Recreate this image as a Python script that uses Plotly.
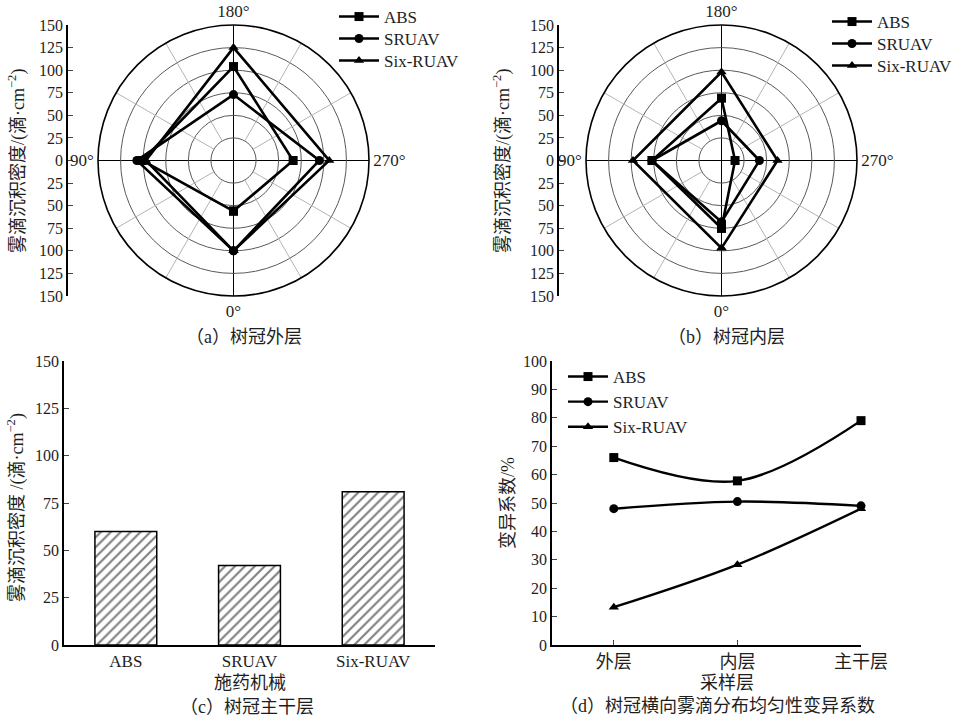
import plotly.graph_objects as go

W, H = 961, 719

# ---------------- data ----------------
series = ["ABS", "SRUAV", "Six-RUAV"]
symbols = ["square", "circle", "triangle-up"]

angles = [0, 90, 180, 270]
angle_labels = ["0°", "90°", "180°", "270°"]

# (a) outer canopy layer, values at 0°, 90°, 180°, 270°
outer_abs = [56, 101, 104, 66]
outer_sruav = [100, 107, 73, 95]
outer_six = [100, 97, 125, 106]

# (b) inner canopy layer
inner_abs = [75, 77, 69, 15]
inner_sruav = [68, 77, 44, 42]
inner_six = [97, 98, 98, 62]

# (c) trunk layer
machines = ["ABS", "SRUAV", "Six-RUAV"]
trunk_density = [60, 42, 81]

# (d) coefficient of variation
layers = ["外层", "内层", "主干层"]
cv_abs = [66, 57.8, 79]
cv_sruav = [48, 50.5, 49]
cv_six = [13.3, 28.3, 48]

radial_ticks = [-150, -125, -100, -75, -50, -25, 0, 25, 50, 75, 100, 125, 150]
spoke_angles = [30, 60, 120, 150, 210, 240, 300, 330]

FONT = "Liberation Serif, Noto Sans CJK SC"
TXT = "#1e1e1e"


def px_x(p):
    return p / W


def px_y(p):
    return 1 - p / H


fig = go.Figure()

polar_sets = [
    ("polar", ["legend", "legend2", "legend3"], [outer_abs, outer_sruav, outer_six]),
    ("polar2", ["legend4", "legend5", "legend6"], [inner_abs, inner_sruav, inner_six]),
]

for sub, legs, data in polar_sets:
    # light grey spokes starting at the 25 circle
    rr, tt = [], []
    for a in spoke_angles:
        rr += [25, 150, None]
        tt += [a, a, None]
    fig.add_trace(go.Scatterpolar(r=rr, theta=tt, mode="lines", subplot=sub,
                                  line=dict(color="#b4b4b4", width=1),
                                  showlegend=False, hoverinfo="skip"))
    for name, sym, vals, leg in zip(series, symbols, data, legs):
        fig.add_trace(go.Scatterpolar(
            r=vals + vals[:1], theta=angles + angles[:1], mode="lines+markers",
            name=name, subplot=sub, legend=leg,
            line=dict(color="black", width=2.6),
            marker=dict(symbol=sym, size=9, color="black"),
        ))

# empty helper traces so the side density axes of (a) and (b) are drawn
for xa, ya in [("x", "y"), ("x2", "y2")]:
    fig.add_trace(go.Scatter(x=[], y=[], xaxis=xa, yaxis=ya, mode="lines",
                             showlegend=False, hoverinfo="skip"))

# (c) bars
fig.add_trace(go.Bar(
    x=machines, y=trunk_density, xaxis="x3", yaxis="y3", width=0.5,
    marker=dict(color="white", line=dict(color="black", width=1.5),
                pattern=dict(shape="/", fgcolor="black", bgcolor="white",
                             size=7, solidity=0.3)),
    showlegend=False,
))

# (d) lines
for name, sym, vals in zip(series, symbols, [cv_abs, cv_sruav, cv_six]):
    fig.add_trace(go.Scatter(
        x=layers, y=vals, xaxis="x4", yaxis="y4", mode="lines+markers",
        name=name, legend="legend7", line=dict(color="black", width=2.4, shape="spline"),
        marker=dict(symbol=sym, size=9, color="black"), cliponaxis=False,
    ))

polar_common = dict(
    bgcolor="white",
    angularaxis=dict(rotation=270, direction="clockwise", tickmode="array",
                     tickvals=angles, ticktext=angle_labels, ticks="",
                     showgrid=True, gridcolor="black", gridwidth=1.2,
                     showline=True, linecolor="black", linewidth=1.6,
                     tickfont=dict(family=FONT, size=17, color=TXT)),
    radialaxis=dict(range=[0, 150], tickvals=[25, 50, 75, 100, 125],
                    showticklabels=False, ticks="", showline=False,
                    showgrid=True, gridcolor="#5a5a5a", gridwidth=1),
)

side_axis = dict(range=[-150, 150], tickmode="array", tickvals=radial_ticks,
                 ticktext=[str(abs(v)) for v in radial_ticks], ticks="inside",
                 ticklen=5, tickwidth=1.3, showline=True, linecolor="black",
                 linewidth=1.5, showgrid=False, zeroline=False, automargin=False,
                 tickfont=dict(family=FONT, size=16, color=TXT))

legend_common = dict(xanchor="left", yanchor="top", bgcolor="rgba(0,0,0,0)",
                     font=dict(family=FONT, size=17, color=TXT),
                     itemwidth=40, tracegroupgap=0, borderwidth=0)

LEG_OFF = 17  # distance from legend top to first item centre
legend_pos = {
    "legend": (334, 16), "legend2": (334, 38), "legend3": (334, 60),
    "legend4": (827, 21), "legend5": (827, 43), "legend6": (827, 65),
    "legend7": (563, 376),
}
legends = {k: dict(x=px_x(x), y=px_y(y - LEG_OFF), **legend_common)
           for k, (x, y) in legend_pos.items()}

fig.update_layout(
    width=W, height=H, margin=dict(l=0, r=0, t=0, b=0, autoexpand=False),
    paper_bgcolor="white", plot_bgcolor="white",
    font=dict(family=FONT, size=16, color=TXT),
    polar=dict(domain=dict(x=[px_x(98), px_x(369)], y=[px_y(296), px_y(25)]), **polar_common),
    polar2=dict(domain=dict(x=[px_x(586), px_x(857)], y=[px_y(296), px_y(25)]), **polar_common),
    xaxis=dict(domain=[px_x(68), px_x(98)], visible=False, anchor="y", range=[0, 1]),
    yaxis=dict(domain=[px_y(296), px_y(25)], anchor="x", **side_axis),
    xaxis2=dict(domain=[px_x(559), px_x(586)], visible=False, anchor="y2", range=[0, 1]),
    yaxis2=dict(domain=[px_y(296), px_y(25)], anchor="x2", **side_axis),
    xaxis3=dict(domain=[px_x(64), px_x(435)], anchor="y3", range=[-0.5, 2.5],
                showline=True, linecolor="black", linewidth=1.5, ticks="",
                automargin=False, tickfont=dict(family=FONT, size=17, color=TXT)),
    yaxis3=dict(domain=[px_y(645), px_y(361)], anchor="x3", range=[0, 150],
                tickvals=[0, 25, 50, 75, 100, 125, 150], ticks="inside", ticklen=5,
                tickwidth=1.3, showline=True, linecolor="black", linewidth=1.5,
                showgrid=False, zeroline=False, automargin=False,
                tickfont=dict(family=FONT, size=16, color=TXT)),
    xaxis4=dict(domain=[px_x(552), px_x(861)], anchor="y4", range=[-0.5, 2],
                showline=True, linecolor="black", linewidth=1.5, ticks="inside",
                ticklen=5, tickwidth=1.3, automargin=False,
                tickfont=dict(family=FONT, size=18, color=TXT)),
    yaxis4=dict(domain=[px_y(645), px_y(361)], anchor="x4", range=[0, 100],
                tickvals=list(range(0, 101, 10)), ticks="inside", ticklen=5,
                tickwidth=1.3, showline=True, linecolor="black", linewidth=1.5,
                showgrid=False, zeroline=False, automargin=False,
                tickfont=dict(family=FONT, size=16, color=TXT)),
    showlegend=True,
    **legends,
)

ann = [
    ("（a）树冠外层", 244, 337, 0, 18),
    ("（b）树冠内层", 726, 337, 0, 18),
    ("（c）树冠主干层", 247, 707, 0, 18),
    ("（d）树冠横向雾滴分布均匀性变异系数", 717, 706, 0, 18),
    ("施药机械", 250, 683, 0, 18),
    ("采样层", 727, 683, 0, 18),
    ("雾滴沉积密度/(滴·cm<sup>−2</sup>)", 17, 161, -90, 18),
    ("雾滴沉积密度/(滴·cm<sup>−2</sup>)", 502, 161, -90, 18),
    ("雾滴沉积密度 /(滴·cm<sup>−2</sup>)", 16, 508, -90, 18),
    ("变异系数/%", 508, 503, -90, 18),
]
for text, x, y, ang, size in ann:
    fig.add_annotation(text=text, x=px_x(x), y=px_y(y), xref="paper", yref="paper",
                       showarrow=False, textangle=ang, xanchor="center", yanchor="middle",
                       font=dict(family=FONT, size=size, color=TXT))

# remove the default 8 px page margin so the 961x719 figure fills the window
fig.write_html("out.html", config={"displayModeBar": False},
               post_script="document.body.style.margin='0';document.body.style.overflow='hidden';")
